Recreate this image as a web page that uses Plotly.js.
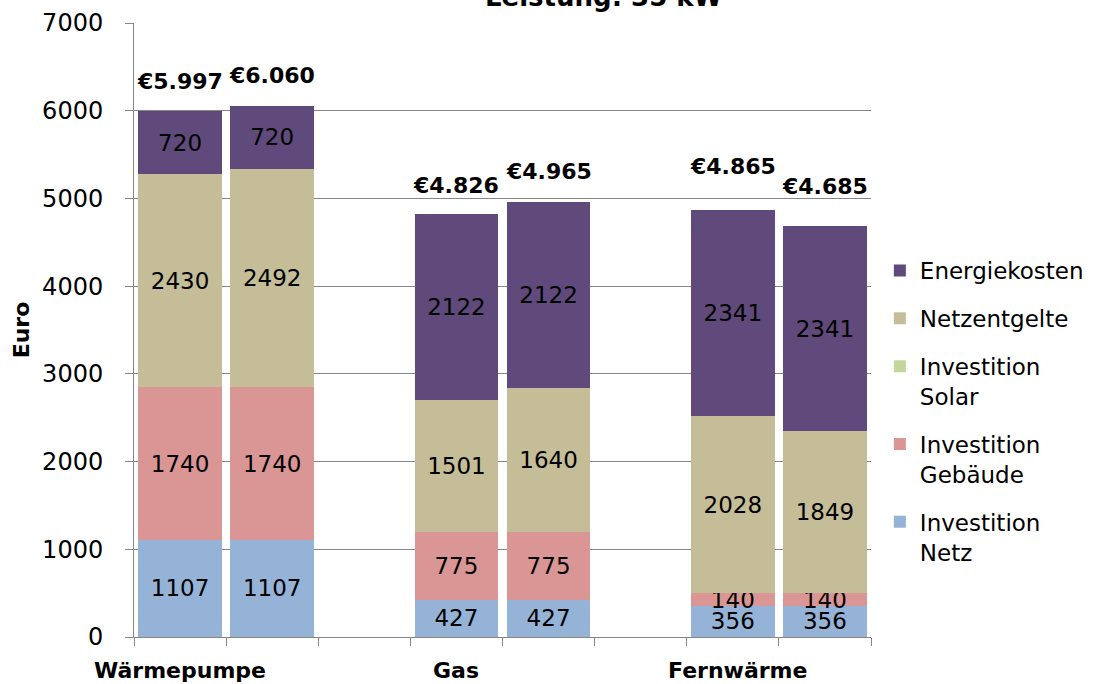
<!DOCTYPE html>
<html>
<head>
<meta charset="utf-8">
<script src="https://cdn.plot.ly/plotly-3.0.1.min.js"></script>
<style>html,body{margin:0;padding:0;background:#fff;}#chart{width:1098px;height:684px;}</style>
</head>
<body>
<div id="chart"></div>
<script>
// Slot positions of the six bars (two per heating type, one empty slot between groups)
var barSlots = [0, 1, 3, 4, 6, 7];
var groups = ["Wärmepumpe", "Gas", "Fernwärme"];
var groupSlots = [0, 3, 6.05];

var seriesNames = ["Investition<br>Netz", "Investition<br>Gebäude", "Investition<br>Solar", "Netzentgelte", "Energiekosten"];
var investitionNetz     = [1107, 1107, 427, 427, 356, 356];
var investitionGebaeude = [1740, 1740, 775, 775, 140, 140];
var investitionSolar    = [0, 0, 0, 0, 0, 0];
var netzentgelte        = [2430, 2492, 1501, 1640, 2028, 1849];
var energiekosten       = [720, 720, 2122, 2122, 2341, 2341];

var totals      = [5997, 6060, 4826, 4965, 4865, 4685];
var totalLabels = ["€5.997", "€6.060", "€4.826", "€4.965", "€4.865", "€4.685"];

var yTicks = [0, 1000, 2000, 3000, 4000, 5000, 6000, 7000];

var colors = ["#95B3D7", "#DA9694", "#C3D69B", "#C4BD97", "#604A7B"];
var seriesData = [investitionNetz, investitionGebaeude, investitionSolar, netzentgelte, energiekosten];
var legendRanks = [5, 4, 3, 2, 1];

var FONT = "DejaVu Sans, Verdana, sans-serif";
var BARFONT = 23;

var traces = seriesData.map(function (vals, i) {
  return {
    type: "bar",
    name: seriesNames[i],
    legendgroup: "g" + i,
    legendrank: legendRanks[i],
    x: barSlots,
    y: vals,
    width: 0.91,
    marker: {color: colors[i], line: {width: 0}},
    text: vals.map(function (v) { return v > 0 ? String(v) : ""; }),
    textposition: "inside",
    insidetextanchor: "middle",
    textangle: 0,
    constraintext: "none",
    textfont: {family: FONT, size: BARFONT, color: "#000"},
    hoverinfo: "skip"
  };
});

var labelShift = [30, 30, 29, 31, 44, 40];
var annotations = totals.map(function (t, i) {
  return {
    x: barSlots[i], y: t, xref: "x", yref: "y",
    text: "<b>" + totalLabels[i] + "</b>",
    showarrow: false, yanchor: "bottom", yshift: labelShift[i] - 15,
    font: {family: FONT, size: 22, color: "#000"}
  };
});
groups.forEach(function (g, i) {
  annotations.push({
    x: groupSlots[i], y: 0, xref: "x", yref: "paper",
    text: "<b>" + g + "</b>", showarrow: false,
    yanchor: "middle", yshift: -33,
    font: {family: FONT, size: 22, color: "#000"}
  });
});
annotations.push({
  x: 0.637, y: 1, xref: "paper", yref: "paper",
  text: "<b>Leistung: 35 kW</b>", showarrow: false,
  yanchor: "bottom", yshift: 9,
  font: {family: FONT, size: 26, color: "#000"}
});

var boundaries = [];
for (var b = -0.5; b <= 7.5; b += 1) boundaries.push(b);

var layout = {
  width: 1098, height: 684,
  margin: {l: 134, r: 227, t: 23, b: 47, pad: 0, autoexpand: false},
  paper_bgcolor: "#fff", plot_bgcolor: "#fff",
  barmode: "stack",
  uniformtext: {mode: "show", minsize: BARFONT},
  showlegend: true,
  legend: {
    x: 1.012, xanchor: "left", y: 0.632, yanchor: "top",
    traceorder: "grouped", tracegroupgap: 15, valign: "top",
    font: {family: FONT, size: 23, color: "#000"}
  },
  xaxis: {
    range: [-0.5, 7.5], tickmode: "array", tickvals: boundaries,
    ticktext: boundaries.map(function () { return ""; }),
    ticks: "outside", ticklen: 8, tickcolor: "#868686",
    showline: true, linecolor: "#868686", linewidth: 1,
    showgrid: false, zeroline: false, fixedrange: true
  },
  yaxis: {
    range: [0, 7000], tickmode: "array", tickvals: yTicks,
    ticks: "outside", ticklen: 8, tickcolor: "#868686",
    ticklabelstandoff: 17,
    showline: true, linecolor: "#868686", linewidth: 1,
    showgrid: true, gridcolor: "#868686", gridwidth: 1,
    zeroline: false,
    tickfont: {family: FONT, size: 24, color: "#000"},
    title: {text: "<b>Euro</b>", font: {family: FONT, size: 22, color: "#000"}, standoff: 6},
    fixedrange: true
  },
  annotations: annotations
};

Plotly.newPlot("chart", traces, layout, {displayModeBar: false, staticPlot: true});
</script>
</body>
</html>
